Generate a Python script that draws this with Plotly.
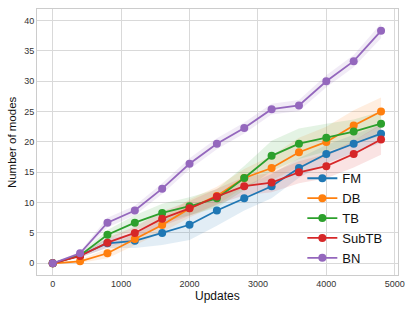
import plotly.graph_objects as go

updates = [0, 400, 800, 1200, 1600, 2000, 2400, 2800, 3200, 3600, 4000, 4400, 4800]

fm = [0, 1.3, 3.3, 3.7, 5.0, 6.35, 8.7, 10.7, 12.7, 15.7, 18.0, 19.7, 21.35]
db = [0, 0.33, 1.65, 4.0, 6.3, 9.05, 11.1, 14.05, 15.7, 18.3, 20.0, 22.7, 25.0]
tb = [0, 1.3, 4.7, 6.7, 8.3, 9.4, 10.7, 14.05, 17.7, 19.7, 20.7, 21.7, 23.0]
subtb = [0, 1.2, 3.4, 5.0, 7.35, 9.05, 11.0, 12.7, 13.3, 15.0, 16.0, 18.0, 20.4]
bn = [0, 1.65, 6.7, 8.7, 12.3, 16.4, 19.7, 22.3, 25.4, 26.0, 30.0, 33.3, 38.3]

fm_sd = [0, 0.3, 0.8, 1.2, 2.0, 2.5, 2.5, 2.0, 2.0, 1.6, 1.5, 1.5, 1.5]
db_sd = [0, 0.3, 0.8, 1.0, 1.2, 1.5, 1.5, 1.5, 2.0, 2.4, 2.5, 2.5, 2.3]
tb_sd = [0, 0.3, 0.8, 1.2, 1.5, 1.5, 1.5, 2.0, 2.5, 2.5, 2.3, 2.0, 2.0]
subtb_sd = [0, 0.3, 0.8, 1.0, 1.2, 1.2, 1.3, 1.5, 1.6, 1.8, 2.0, 2.2, 2.5]
bn_sd = [0, 0.3, 0.8, 0.8, 0.9, 0.9, 0.9, 0.9, 0.9, 0.9, 1.0, 1.0, 1.2]

names = ["FM", "DB", "TB", "SubTB", "BN"]
colors = ["#1f77b4", "#ff7f0e", "#2ca02c", "#d62728", "#9467bd"]
band_colors = ["rgba(31,119,180,0.13)", "rgba(255,127,14,0.13)", "rgba(44,160,44,0.13)",
               "rgba(214,39,40,0.13)", "rgba(148,103,189,0.13)"]
series = [fm, db, tb, subtb, bn]
sds = [fm_sd, db_sd, tb_sd, subtb_sd, bn_sd]

FONT = "Liberation Sans, Arial, Helvetica, sans-serif"

fig = go.Figure()
for s, sd, bc in zip(series, sds, band_colors):
    upper = [v + e for v, e in zip(s, sd)]
    lower = [v - e for v, e in zip(s, sd)]
    fig.add_trace(go.Scatter(
        x=updates + updates[::-1], y=upper + lower[::-1],
        fill="toself", fillcolor=bc, line=dict(width=0),
        mode="lines", showlegend=False, hoverinfo="skip"))

for s, n, c in zip(series, names, colors):
    fig.add_trace(go.Scatter(
        x=updates, y=s, name=n, mode="lines+markers",
        line=dict(color=c, width=1.8),
        marker=dict(color=c, size=8)))

axis_common = dict(
    showgrid=True, gridcolor="#d9d9d9", gridwidth=1.3,
    zeroline=False, showline=True, linecolor="#cccccc", linewidth=1, mirror=True,
    ticks="", automargin=False,
    tickfont=dict(family=FONT, size=9, color="#333333"),
)

fig.update_layout(
    width=415, height=311,
    margin=dict(l=37, r=17, t=9, b=36),
    paper_bgcolor="white", plot_bgcolor="white",
    font=dict(family=FONT, color="#222222"),
    xaxis=dict(range=[-230, 5048], tickvals=[0, 1000, 2000, 3000, 4000, 5000], **axis_common),
    yaxis=dict(range=[-1.93, 41.9], tickvals=[0, 5, 10, 15, 20, 25, 30, 35, 40], **axis_common),
    legend=dict(x=0.735, y=0.42, xanchor="left", yanchor="top",
                bgcolor="rgba(0,0,0,0)", font=dict(family=FONT, size=13, color="#111111"),
                itemwidth=30, tracegroupgap=0),
    showlegend=True,
    annotations=[
        dict(text="Updates", xref="paper", yref="paper", x=0.5, y=-0.079,
             xanchor="center", yanchor="middle", showarrow=False,
             font=dict(family=FONT, size=12, color="#111111")),
        dict(text="Number of modes", xref="paper", yref="paper", x=-0.069, y=0.5,
             xanchor="center", yanchor="middle", textangle=-90, showarrow=False,
             font=dict(family=FONT, size=11.5, color="#111111")),
    ],
)

fig.write_html("out.html", config={"displayModeBar": False},
               post_script="document.body.style.margin='0';")
